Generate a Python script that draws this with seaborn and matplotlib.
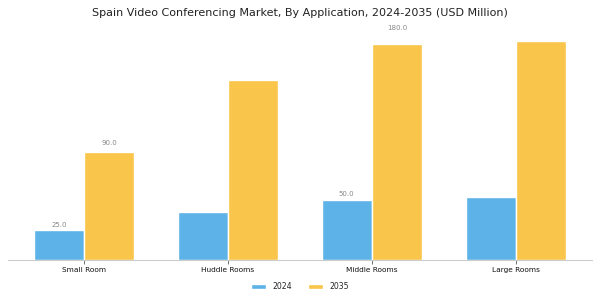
import numpy as np
import pandas as pd
import matplotlib
matplotlib.use("Agg")
import matplotlib.pyplot as plt
import seaborn as sns

# Market values by application (USD Million)
categories = ["Small Room", "Huddle Rooms", "Middle Rooms", "Large Rooms"]
values_2024 = [25.0, 40.0, 50.0, 52.5]
values_2035 = [90.0, 150.0, 180.0, 183.0]
years = ["2024", "2035"]
# only these bars carry a value label in the original
labelled = {("Small Room", "2024"), ("Small Room", "2035"),
            ("Middle Rooms", "2024"), ("Middle Rooms", "2035")}

df = pd.DataFrame({
    "Application": categories * 2,
    "Year": [years[0]] * len(categories) + [years[1]] * len(categories),
    "Value": values_2024 + values_2035,
})

sns.set_theme(style="white")
plt.rcParams["font.family"] = ["DejaVu Sans"]

fig = plt.figure(figsize=(6, 3), dpi=100)
ax = fig.add_axes([0.013, 0.133, 0.974, 0.8])

palette = {"2024": "#5DB3E8", "2035": "#F9C54A"}
sns.barplot(data=df, x="Application", y="Value", hue="Year", palette=palette,
            width=0.7, saturation=1, ax=ax)

ax.set_xlim(-0.53, 3.53)
ax.set_ylim(0, 200)
ax.set_xlabel("")
ax.set_ylabel("")
ax.set_yticks([])
ax.tick_params(axis="x", labelsize=5.3, length=3, width=0.6, color="#555555",
               pad=1.8, bottom=True, labelcolor="#111111")
for side in ["top", "right", "left"]:
    ax.spines[side].set_visible(False)
ax.spines["bottom"].set_color("#cccccc")
ax.spines["bottom"].set_linewidth(0.8)

# value labels, placed a little above each bar (scaled with its height)
for container, yr in zip(ax.containers, years):
    for bar, cat in zip(container, categories):
        if (cat, yr) in labelled:
            h = bar.get_height()
            ax.text(bar.get_x() + bar.get_width() / 2, h * 1.06, f"{h:.1f}",
                    ha="center", va="bottom", fontsize=5, color="#888888")

ax.get_legend().remove()
handles, labels = ax.get_legend_handles_labels()
fig.legend(handles, labels, loc="center", bbox_to_anchor=(0.5, 0.045), ncol=2,
           frameon=False, fontsize=5.6, handlelength=2.0, handleheight=0.55,
           handletextpad=0.8, columnspacing=2.0)

fig.suptitle("Spain Video Conferencing Market, By Application, 2024-2035 (USD Million)",
             fontsize=8, y=0.972, color="#222222")

fig.savefig("out.png", dpi=100)
